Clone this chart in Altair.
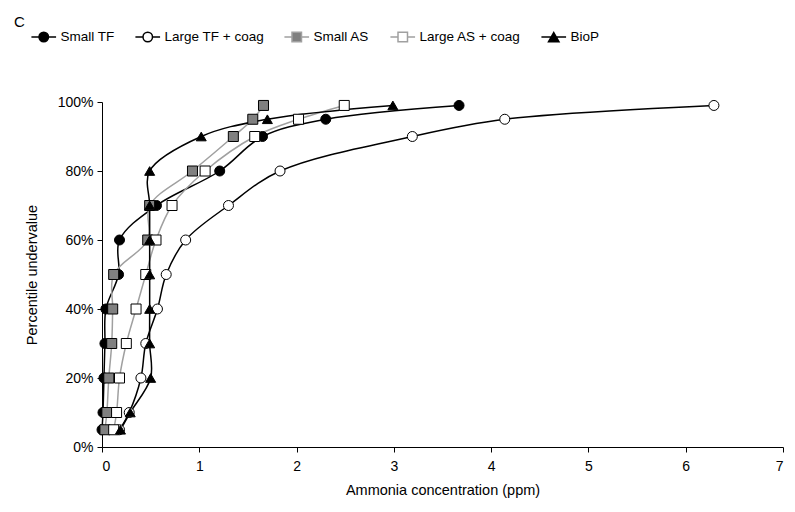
import altair as alt
import pandas as pd

percentiles = [5, 10, 20, 30, 40, 50, 60, 70, 80, 90, 95, 99]
series_names = ["Small TF", "Large TF + coag", "Small AS", "Large AS + coag", "BioP"]
small_tf = [0.00, 0.01, 0.02, 0.03, 0.04, 0.17, 0.18, 0.56, 1.21, 1.65, 2.30, 3.67]
large_tf = [0.18, 0.28, 0.40, 0.45, 0.57, 0.66, 0.86, 1.30, 1.83, 3.19, 4.14, 6.29]
small_as = [0.03, 0.05, 0.07, 0.10, 0.11, 0.12, 0.47, 0.49, 0.93, 1.35, 1.55, 1.66]
large_as = [0.12, 0.15, 0.18, 0.25, 0.35, 0.45, 0.555, 0.72, 1.06, 1.57, 2.02, 2.49]
biop = [0.19, 0.29, 0.50, 0.49, 0.49, 0.49, 0.49, 0.49, 0.49, 1.02, 1.70, 2.99]

x_ticks = [0, 1, 2, 3, 4, 5, 6, 7]
y_ticks = [0, 0.2, 0.4, 0.6, 0.8, 1.0]

line_colors = ["black", "black", "#a0a0a0", "#a0a0a0", "black"]
fill_colors = ["black", "white", "#808080", "white", "black"]
shapes = ["circle", "circle", "square", "square", "triangle-up"]

# legend symbols: short line stub with the marker in the middle
STUB = "M-2.6,0L-1,0M1,0L2.6,0"
CIRCLE = STUB + "M-1,0A1,1 0 1,0 1,0A1,1 0 1,0 -1,0Z"
SQUARE = STUB + "M-1,-1L1,-1L1,1L-1,1Z"
TRIANGLE = "M-2.6,0L-0.5,0M0.5,0L2.6,0M0,-0.95L1.1,0.95L-1.1,0.95Z"
legend_shapes = [CIRCLE, CIRCLE, SQUARE, SQUARE, TRIANGLE]

rows = []
for name, vals in zip(series_names, [small_tf, large_tf, small_as, large_as, biop]):
    for p, v in zip(percentiles, vals):
        rows.append({"series": name, "series_l": name, "p": p / 100.0, "x": v})
df = pd.DataFrame(rows)

FONT = "Liberation Sans"

x_enc = alt.X("x:Q", scale=alt.Scale(domain=[0, 7], nice=False),
              axis=alt.Axis(values=x_ticks, title="Ammonia concentration (ppm)", format="d",
                            labelPadding=7, titlePadding=10))
y_enc = alt.Y("p:Q", scale=alt.Scale(domain=[0, 1], nice=False),
              axis=alt.Axis(values=y_ticks, format=".0%", title="Percentile undervalue",
                            labelPadding=4, titlePadding=18))

lines = alt.Chart(df).mark_line(interpolate="catmull-rom", strokeWidth=1.5).encode(
    x=x_enc, y=y_enc, order=alt.Order("p:Q"),
    stroke=alt.Stroke("series:N", scale=alt.Scale(domain=series_names, range=line_colors), legend=None),
)

points = alt.Chart(df).mark_point(filled=True, size=100, stroke="black", strokeWidth=1,
                                  opacity=1, fillOpacity=1, strokeOpacity=1).encode(
    x=x_enc, y=y_enc,
    shape=alt.Shape("series:N", scale=alt.Scale(domain=series_names, range=shapes), legend=None),
    fill=alt.Fill("series:N", scale=alt.Scale(domain=series_names, range=fill_colors), legend=None),
)

leg = alt.Legend(orient="none", legendX=-65, legendY=-72, direction="horizontal", columns=5,
                 title=None, symbolSize=90, symbolStrokeWidth=1.5, symbolOpacity=1,
                 labelOffset=10, columnPadding=17, padding=0,
                 labelFontSize=13.5, labelFont=FONT, labelColor="black")

legend_layer = alt.Chart(df).mark_point(filled=True, opacity=0, size=81).encode(
    x=x_enc, y=y_enc,
    shape=alt.Shape("series_l:N", scale=alt.Scale(domain=series_names, range=legend_shapes), legend=leg),
    fill=alt.Fill("series_l:N", scale=alt.Scale(domain=series_names, range=fill_colors), legend=leg),
    stroke=alt.Stroke("series_l:N", scale=alt.Scale(domain=series_names, range=line_colors), legend=leg),
)

chart = alt.layer(lines, points, legend_layer).resolve_scale(
    shape="independent", fill="independent", stroke="independent"
).properties(
    width=681, height=345,
    autosize=alt.AutoSizeParams(type="none"),
    padding={"left": 94, "top": 94, "right": 4, "bottom": 55},
    title=alt.Title("C", anchor="start", frame="group", dx=-88, offset=2, dy=2,
                    fontSize=15, fontWeight="normal", font=FONT, color="black"),
).configure_view(stroke=None).configure_axis(
    grid=False, domainColor="black", tickColor="black", tickSize=5,
    labelFont=FONT, labelFontSize=14, labelColor="black",
    titleFont=FONT, titleFontSize=14.5, titleFontWeight="normal", titleColor="black",
)

chart.save("out.html", embed_options={"renderer": "svg", "actions": False})
